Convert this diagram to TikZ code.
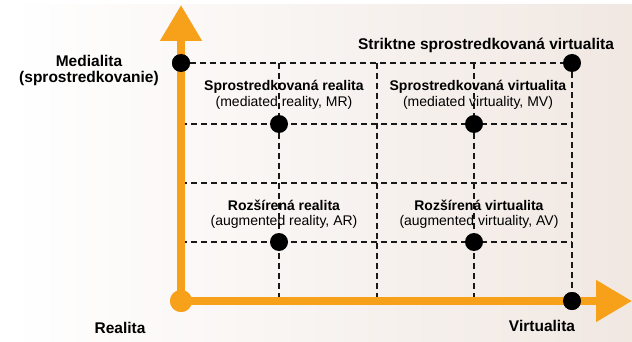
\documentclass[tikz,border=0pt]{standalone}
\usepackage{fontspec}
\setmainfont{Liberation Sans}
\usetikzlibrary{arrows.meta,positioning}
\definecolor{axisorange}{RGB}{247,160,26}
\definecolor{paper}{RGB}{239,229,223}

\begin{document}
\begin{tikzpicture}[x=1pt,y=-1pt]
\tikzstyle{dot}=[circle,fill=black,inner sep=0pt,minimum size=18pt]
\tikzstyle{origin}=[circle,fill=axisorange,inner sep=0pt,minimum size=22pt]
\tikzstyle{grid}=[draw=black!90,line width=1.4pt,dash pattern=on 6pt off 4pt]
\tikzstyle{axis}=[draw=axisorange,line width=8pt,-{Triangle[length=36pt,width=40pt]}]
\tikzstyle{big}=[font=\fontsize{15.5}{16}\selectfont\bfseries,align=center]
\tikzstyle{cell}=[font=\fontsize{14}{15.5}\selectfont,align=center]

\useasboundingbox (0,0) rectangle (632,342);
\shade[left color=white,middle color=paper!75,right color=paper!90] (10,5) rectangle (632,342);

% grid ends
\coordinate (t1) at (279,63);
\coordinate (t2) at (377,63);
\coordinate (t3) at (474,63);
\coordinate (b1) at (279,301);
\coordinate (b2) at (377,301);
\coordinate (b3) at (474,301);
\coordinate (l1) at (181,124);
\coordinate (l2) at (181,183);
\coordinate (l3) at (181,242);
\coordinate (r1) at (572,124);
\coordinate (r2) at (572,183);
\coordinate (r3) at (572,242);
\coordinate (ytip) at (181,5);
\coordinate (xtip) at (632,301);

\node[origin] (o) at (181,301) {};
\node[dot] (med) at (181,63) {};
\node[dot] (smv) at (572,63) {};
\node[dot] (virt) at (572,301) {};

\foreach \a/\b in {med/smv,l1/r1,l2/r2,l3/r3,t1/b1,t2/b2,t3/b3,smv/virt}
	\draw[grid] (\a) -- (\b);

\draw[axis] (o.center) -- (ytip);
\draw[axis] (o.center) -- (xtip);
\node[origin] at (o) {};
\node[dot] at (med) {};
\node[dot] at (virt) {};

\node[dot] (mr) at (279,124) {};
\node[dot] (mv) at (474,124) {};
\node[dot] (ar) at (279,242) {};
\node[dot] (av) at (474,242) {};

\node[big] (medl) at (89,70) {Medialita\\(sprostredkovanie)};
\node[big] (smvl) at (486,45) {Striktne sprostredkovaná virtualita};
\node[cell] (mrl) at (284,95) {\textbf{Sprostredkovaná realita}\\(mediated reality, MR)};
\node[cell] (mvl) at (478,95) {\textbf{Sprostredkovaná virtualita}\\(mediated virtuality, MV)};
\node[cell] (arl) at (284,214) {\textbf{Rozšírená realita}\\(augmented reality, AR)};
\node[cell] (avl) at (479,214) {\textbf{Rozšírená virtualita}\\(augmented virtuality, AV)};
\node[big] (reall) at (120,328) {Realita};
\node[big] (virtl) at (542,326) {Virtualita};
\end{tikzpicture}
\end{document}
